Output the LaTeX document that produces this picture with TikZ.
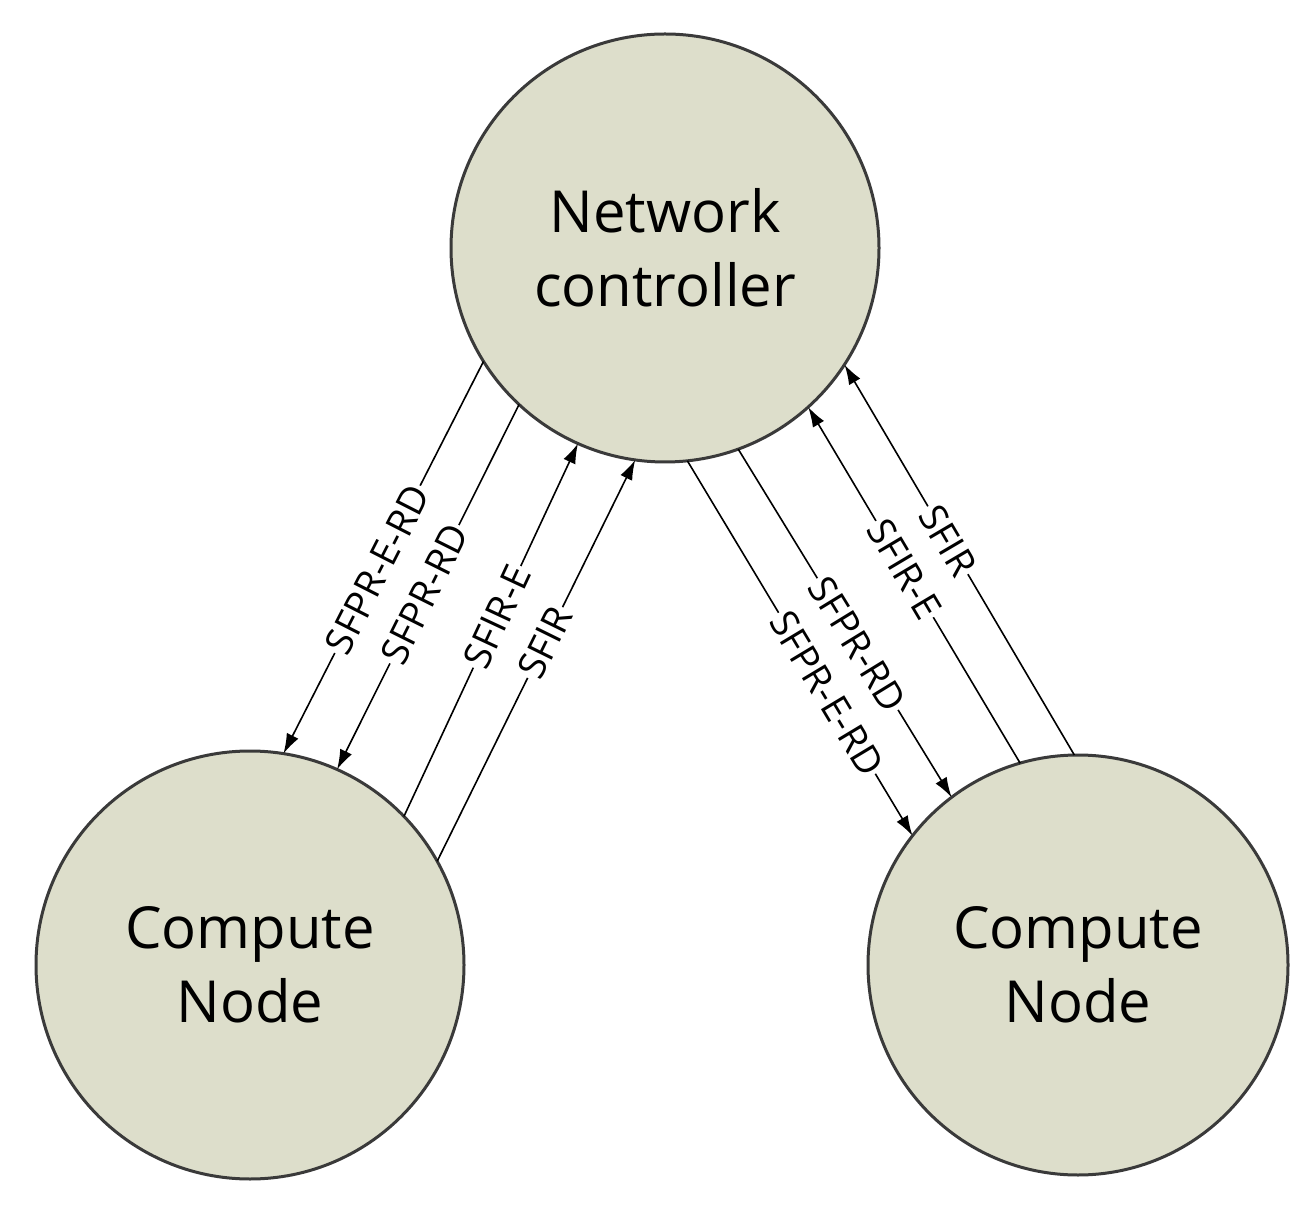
\documentclass[tikz,border=0pt]{standalone}
\usepackage{fontspec}
\setmainfont{Open Sans}
\usetikzlibrary{arrows.meta}
\definecolor{nodefill}{HTML}{DDDECB}
\definecolor{nodeedge}{HTML}{3A3A3A}
\begin{document}
\begin{tikzpicture}[x=1pt,y=1pt,
  big/.style={circle,draw=nodeedge,line width=3pt,fill=nodefill,minimum size=428pt,inner sep=0pt,outer sep=0pt,align=center,font=\fontsize{58}{74}\selectfont},
  conn/.style={line width=1.6pt,-{Latex[length=20pt,width=13pt]}},
  lab/.style={sloped,fill=white,inner sep=2pt,font=\fontsize{38}{40}\selectfont}]
\useasboundingbox (0,0) rectangle (1313,1211);
\node[big] (nc) at (665,963) {Network\\controller};
\node[big] (cl) at (250,246) {Compute\\Node};
\node[big,minimum size=420pt] (cr) at (1078,246) {Compute\\Node};
% left
\draw[conn] (nc.212.7) -- node[lab,pos=0.53]{SFPR-E-RD} (cl.81);
\draw[conn] (nc.227) -- node[lab,pos=0.52]{SFPR-RD} (cl.66.6);
\draw[conn] (cl.44) -- node[lab,pos=0.535]{SFIR-E} (nc.246);
\draw[conn] (cl.29.6) -- node[lab,pos=0.545]{SFIR} (nc.262.5);
% right
\draw[conn] (nc.276) -- node[lab,pos=0.62]{SFPR-E-RD} (cr.142.4);
\draw[conn] (nc.290) -- node[lab,pos=0.56]{SFPR-RD} (cr.127);
\draw[conn] (cr.106.5) -- node[lab,pos=0.545]{SFIR-E} (nc.312);
\draw[conn] (cr.91.4) -- node[lab,pos=0.55]{SFIR} (nc.327);
\end{tikzpicture}
\end{document}
